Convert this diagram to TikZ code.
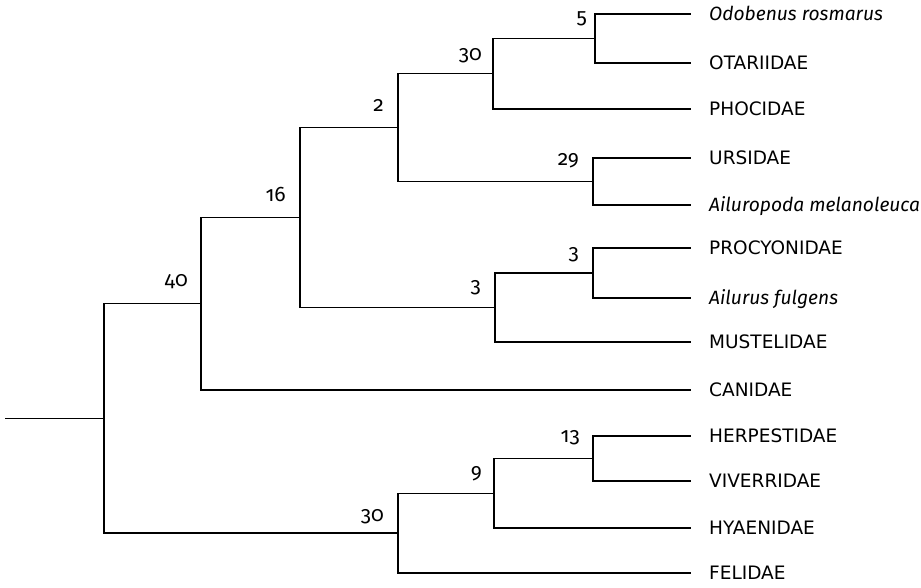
\documentclass[tikz,border=0pt]{standalone}
\usepackage{fontspec}
\setmainfont{DejaVu Sans}
\newfontfamily\itfont{Fira Sans Italic}
\newfontfamily\numfont[Numbers=OldStyle]{Fira Sans}
\begin{document}
\begin{tikzpicture}[x=1pt,y=-1pt,
  branch/.style={line width=1.3pt, line cap=rect},
  leaf/.style={anchor=base west, inner sep=0pt, font=\fontsize{18.5}{22}\selectfont},
  itleaf/.style={anchor=base west, inner sep=0pt, font=\itfont\fontsize{19.2}{22}\selectfont},
  sup/.style={anchor=base east, inner sep=0pt, font=\numfont\fontsize{21}{24}\selectfont}]
\useasboundingbox (0,0) rectangle (921,587);
% leaf ends
\foreach \n/\y in {e1/14,e2/63,e3/109,e4/158,e5/205,e6/248,e7/298,e8/342,e9/390,e10/436,e11/481,e12/528,e13/573}
  \coordinate (\n) at (690,\y);
% leaf labels
\node[itleaf] (t1) at (709,20.5) {Odobenus rosmarus};
\node[leaf] (t2) at (709,69.5) {OTARIIDAE};
\node[leaf] (t3) at (709,115.5) {PHOCIDAE};
\node[leaf] (t4) at (709,164.5) {URSIDAE};
\node[itleaf] (t5) at (709,211.5) {Ailuropoda melanoleuca};
\node[leaf] (t6) at (709,254.5) {PROCYONIDAE};
\node[itleaf] (t7) at (709,304.5) {Ailurus fulgens};
\node[leaf] (t8) at (709,348.5) {MUSTELIDAE};
\node[leaf] (t9) at (709,396.5) {CANIDAE};
\node[leaf] (t10) at (709,442.5) {HERPESTIDAE};
\node[leaf] (t11) at (709,487.5) {VIVERRIDAE};
\node[leaf] (t12) at (709,534.5) {HYAENIDAE};
\node[leaf] (t13) at (709,579.5) {FELIDAE};
% internal nodes
\coordinate (n5) at (595,38.5);
\coordinate (n30a) at (493,73.75);
\coordinate (n29) at (593,181.5);
\coordinate (n2) at (398,127.6);
\coordinate (n3a) at (593,273);
\coordinate (n3b) at (495,307.5);
\coordinate (n16) at (300,217.6);
\coordinate (n40) at (201,303.8);
\coordinate (n13) at (593,458.5);
\coordinate (n9) at (494,493.3);
\coordinate (n30b) at (398,533.1);
\coordinate (root) at (104,418.5);
\coordinate (r0) at (6,418.5);
% branches
\draw[branch] (n5) |- (e1); \draw[branch] (n5) |- (e2);
\draw[branch] (n30a) |- (n5); \draw[branch] (n30a) |- (e3);
\draw[branch] (n29) |- (e4); \draw[branch] (n29) |- (e5);
\draw[branch] (n2) |- (n30a); \draw[branch] (n2) |- (n29);
\draw[branch] (n3a) |- (e6); \draw[branch] (n3a) |- (e7);
\draw[branch] (n3b) |- (n3a); \draw[branch] (n3b) |- (e8);
\draw[branch] (n16) |- (n2); \draw[branch] (n16) |- (n3b);
\draw[branch] (n40) |- (n16); \draw[branch] (n40) |- (e9);
\draw[branch] (n13) |- (e10); \draw[branch] (n13) |- (e11);
\draw[branch] (n9) |- (n13); \draw[branch] (n9) |- (e12);
\draw[branch] (n30b) |- (n9); \draw[branch] (n30b) |- (e13);
\draw[branch] (root) |- (n40); \draw[branch] (root) |- (n30b);
\draw[branch] (r0) -- (root);
% support values
\node[sup] (s5) at ([shift={(-8,-15)}]n5) {5};
\node[sup] (s30a) at ([shift={(-11,-13)}]n30a) {30};
\node[sup] (s29) at ([shift={(-14,-16)}]n29) {29};
\node[sup] (s2) at ([shift={(-14,-16)}]n2) {2};
\node[sup] (s3a) at ([shift={(-14,-14)}]n3a) {3};
\node[sup] (s3b) at ([shift={(-14,-15)}]n3b) {3};
\node[sup] (s16) at ([shift={(-14,-16)}]n16) {16};
\node[sup] (s40) at ([shift={(-13,-17)}]n40) {40};
\node[sup] (s13) at ([shift={(-13,-16)}]n13) {13};
\node[sup] (s9) at ([shift={(-12,-15)}]n9) {9};
\node[sup] (s30b) at ([shift={(-14,-12)}]n30b) {30};
\end{tikzpicture}
\end{document}
